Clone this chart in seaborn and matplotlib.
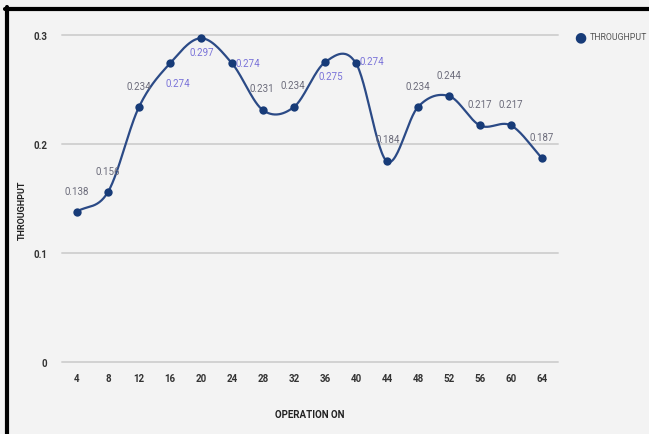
import numpy as np
import pandas as pd
import matplotlib
matplotlib.use("Agg")
import matplotlib.pyplot as plt
import seaborn as sns

operations = [4, 8, 12, 16, 20, 24, 28, 32, 36, 40, 44, 48, 52, 56, 60, 64]
throughput = [0.138, 0.156, 0.234, 0.274, 0.297, 0.274, 0.231, 0.234,
              0.275, 0.274, 0.184, 0.234, 0.244, 0.217, 0.217, 0.187]
label_texts = ["0.138", "0.156", "0.234", "0.274", "0.297", "0.274", "0.231", "0.234",
               "0.275", "0.274", "0.184", "0.234", "0.244", "0.217", "0.217", "0.187"]
y_ticks = [0, 0.1, 0.2, 0.3]
y_tick_labels = ["0", "0.1", "0.2", "0.3"]

sns.set_theme(style="white")
plt.rcParams['font.family'] = ['Roboto', 'DejaVu Sans']

bg = "#f3f3f3"
line_col = "#2b4a86"
pt_col = "#173b78"
purple = "#7a73d9"
gray = "#6b6b7a"

fig = plt.figure(figsize=(6.49, 4.35), dpi=100, facecolor=bg)
ax = fig.add_axes([61.5 / 649, (435 - 363) / 435, (557.5 - 61.5) / 649, (363 - 36) / 435])
ax.set_facecolor(bg)

df = pd.DataFrame({"pos": np.arange(len(operations)), "THROUGHPUT": throughput})

# smooth curve (Catmull-Rom rendering of the series)
xs = df["pos"].to_numpy(dtype=float)
ys = df["THROUGHPUT"].to_numpy(dtype=float)
px = np.concatenate([[2 * xs[0] - xs[1]], xs, [2 * xs[-1] - xs[-2]]])
py = np.concatenate([[2 * ys[0] - ys[1]], ys, [2 * ys[-1] - ys[-2]]])
cx, cy = [], []
t = np.linspace(0, 1, 30)
for i in range(1, len(px) - 2):
    p0, p1, p2, p3 = py[i - 1], py[i], py[i + 1], py[i + 2]
    q0, q1, q2, q3 = px[i - 1], px[i], px[i + 1], px[i + 2]
    yy = 0.5 * ((2 * p1) + (-p0 + p2) * t + (2 * p0 - 5 * p1 + 4 * p2 - p3) * t ** 2 + (-p0 + 3 * p1 - 3 * p2 + p3) * t ** 3)
    xx = 0.5 * ((2 * q1) + (-q0 + q2) * t + (2 * q0 - 5 * q1 + 4 * q2 - q3) * t ** 2 + (-q0 + 3 * q1 - 3 * q2 + q3) * t ** 3)
    cx.extend(xx)
    cy.extend(yy)
ax.plot(cx, cy, color=line_col, lw=1.6, zorder=3, clip_on=False)

sns.scatterplot(data=df, x="pos", y="THROUGHPUT", ax=ax, color=pt_col, s=36,
                edgecolor=pt_col, linewidth=0, zorder=4, legend=False, clip_on=False)

# data labels: (dx px, dy px, color)
offsets = [(0, 21, gray), (0, 21, gray), (0, 21, gray), (8, -20, purple),
           (1, -14, purple), (16, 0, purple), (-1, 22, gray), (-1, 22, gray),
           (6, -14, purple), (16, 2, purple), (1, 22, gray), (0, 21, gray),
           (0, 21, gray), (0, 21, gray), (0, 21, gray), (0, 21, gray)]
for i, (lab, (dx, dy, c)) in enumerate(zip(label_texts, offsets)):
    ax.annotate(lab, (i, throughput[i]), xytext=(dx * 0.72, dy * 0.72), textcoords="offset points",
                ha="center", va="center", fontsize=7, color=c, zorder=5)

ax.set_xlim(-0.5, len(operations) - 0.5)
ax.set_ylim(0, 0.3)
ax.set_xticks(np.arange(len(operations)))
ax.set_xticklabels([str(o) for o in operations], fontsize=7, fontweight="bold", color="#333333")
ax.set_yticks(y_ticks)
ax.set_yticklabels(y_tick_labels, fontsize=7, fontweight="bold", color="#333333")
ax.tick_params(axis="both", length=0)
ax.tick_params(axis="x", pad=8)
ax.tick_params(axis="y", pad=10)
for yv in y_ticks:
    ax.axhline(yv, color="#d2d2d2", lw=1.4, zorder=1, clip_on=False)
for s in ax.spines.values():
    s.set_visible(False)
ax.set_xlabel("OPERATION ON", fontsize=7, fontweight="bold", color="#222222")
ax.set_ylabel("THROUGHPUT", fontsize=6.5, fontweight="bold", color="#222222")
ax.xaxis.set_label_coords((310 - 61.5) / 496, (363 - 410) / 327)
ax.yaxis.set_label_coords((27 - 61.5) / 496, (363 - 210) / 327)

# legend
fig.text(580 / 649, 1 - 37 / 435, "\u25cf", color=pt_col, fontsize=10, ha="center", va="center")
fig.text(590 / 649, 1 - 37 / 435, "THROUGHPUT", color="#555555", fontsize=6.3, ha="left", va="center")

# frame (left and top black border)
fig.add_artist(plt.Line2D([6.5 / 649, 6.5 / 649], [0, 1 - 8 / 435], transform=fig.transFigure, color="black", lw=3))
fig.add_artist(plt.Line2D([5 / 649, 1], [1 - 9.5 / 435, 1 - 9.5 / 435], transform=fig.transFigure, color="black", lw=3))

fig.savefig("out.png", dpi=100, facecolor=bg)
